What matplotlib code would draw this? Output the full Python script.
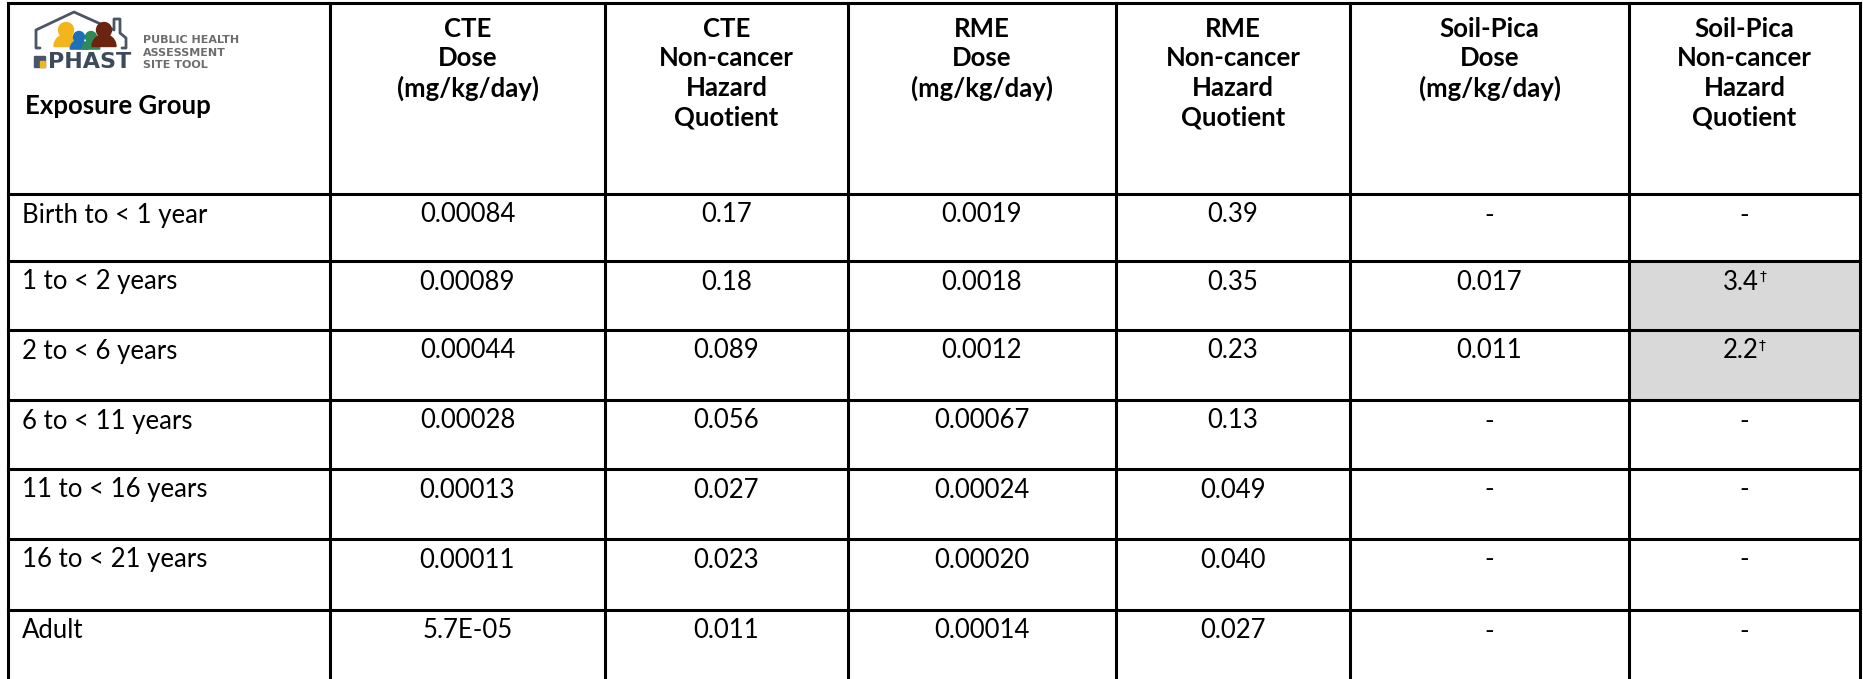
import matplotlib
matplotlib.use("Agg")
import matplotlib.pyplot as plt
from matplotlib.patches import Rectangle, Circle, Wedge

# Table content
header_first = "Exposure Group"
headers = [
    "CTE\nDose\n(mg/kg/day)",
    "CTE\nNon-cancer\nHazard\nQuotient",
    "RME\nDose\n(mg/kg/day)",
    "RME\nNon-cancer\nHazard\nQuotient",
    "Soil-Pica\nDose\n(mg/kg/day)",
    "Soil-Pica\nNon-cancer\nHazard\nQuotient",
]
groups = ["Birth to < 1 year", "1 to < 2 years", "2 to < 6 years", "6 to < 11 years",
          "11 to < 16 years", "16 to < 21 years", "Adult"]
cte_dose = ["0.00084", "0.00089", "0.00044", "0.00028", "0.00013", "0.00011", "5.7E-05"]
cte_hq = ["0.17", "0.18", "0.089", "0.056", "0.027", "0.023", "0.011"]
rme_dose = ["0.0019", "0.0018", "0.0012", "0.00067", "0.00024", "0.00020", "0.00014"]
rme_hq = ["0.39", "0.35", "0.23", "0.13", "0.049", "0.040", "0.027"]
pica_dose = ["-", "0.017", "0.011", "-", "-", "-", "-"]
pica_hq = ["-", "3.4", "2.2", "-", "-", "-", "-"]
pica_flag = [False, True, True, False, False, False, False]

# Layout (pixels)
W, H = 1863, 679
col_edges = [8, 330, 605, 848, 1116, 1350, 1629, 1860]
row_edges = [3, 194, 261, 330, 400, 469, 539, 610, 684]
FONT = "Lato"
FS = 18.5
LW = 2.2


def draw_logo(ax):
    """Rough version of the PHAST logo in the top-left cell."""
    roof_x = [40, 36, 36, 74, 114, 114, 120, 120, 126, 126, 122]
    roof_y = [48, 48, 30, 12, 30, 19, 19, 33, 38, 48, 48]
    ax.plot(roof_x, roof_y, color="#4a5566", lw=2.0, solid_capstyle="round")
    people = [(66, 30, 7.5, "#f2b51c"), (79, 37, 5.5, "#1f6fb8"),
              (91, 37, 5.5, "#2e8b57"), (104, 30, 7.5, "#6b2410")]
    for cx, cy, r, c in people:
        ax.add_patch(Circle((cx, cy), r, color=c, zorder=3))
        ax.add_patch(Wedge((cx, cy + r * 2.2), r * 1.6, 180, 360, color=c, zorder=3))
    ax.add_patch(Rectangle((34, 56), 11, 11, color="#4a5566", zorder=3))
    ax.add_patch(Rectangle((40, 61), 5, 6, color="#f2b51c", zorder=4))
    ax.text(48, 62, "PHAST", fontsize=16, fontweight="bold", color="#3d4a5c",
            family="DejaVu Sans", va="center", ha="left")
    for i, s in enumerate(["PUBLIC HEALTH", "ASSESSMENT", "SITE TOOL"]):
        ax.text(143, 40 + i * 12.5, s, fontsize=8, fontweight="bold", color="#6d6d6d",
                family="DejaVu Sans", va="center", ha="left")


def main():
    fig = plt.figure(figsize=(W / 100, H / 100), dpi=100)
    ax = fig.add_axes([0, 0, 1, 1])
    ax.set_xlim(0, W)
    ax.set_ylim(H, 0)
    ax.axis("off")

    columns = [cte_dose, cte_hq, rme_dose, rme_hq, pica_dose, pica_hq]

    # Shaded cells
    for r, flag in enumerate(pica_flag):
        if flag:
            ax.add_patch(Rectangle((col_edges[6], row_edges[r + 1]),
                                   col_edges[7] - col_edges[6],
                                   row_edges[r + 2] - row_edges[r + 1],
                                   color="#d9d9d9", zorder=0))

    # Grid
    for x in col_edges:
        ax.plot([x, x], [row_edges[0], row_edges[-1]], color="black", lw=LW, zorder=5)
    for y in row_edges:
        ax.plot([col_edges[0], col_edges[-1]], [y, y], color="black", lw=LW, zorder=5)

    # Header
    draw_logo(ax)
    ax.text(25, 106, header_first, fontsize=FS, fontweight="bold", family=FONT,
            va="center", ha="left")
    for j, h in enumerate(headers):
        cx = (col_edges[j + 1] + col_edges[j + 2]) / 2
        for k, line in enumerate(h.split("\n")):
            ax.text(cx, 29 + k * 29.5, line, fontsize=FS, fontweight="bold",
                    family=FONT, va="center", ha="center")

    # Body
    for r, g in enumerate(groups):
        y = row_edges[r + 1] + 21
        ax.text(22, y, g, fontsize=FS, family=FONT, va="center", ha="left")
        for j, col in enumerate(columns):
            cx = (col_edges[j + 1] + col_edges[j + 2]) / 2
            if j == 5 and pica_flag[r]:
                t = ax.text(cx - 4, y, col[r], fontsize=FS, family=FONT,
                            va="center", ha="center")
                ax.annotate("\u2020", xy=(1, 1), xycoords=t, xytext=(0.5, 0),
                            textcoords="offset points", fontsize=10,
                            family="DejaVu Sans", va="top", ha="left")
            else:
                ax.text(cx, y, col[r], fontsize=FS, family=FONT,
                        va="center", ha="center")

    fig.savefig("out.png", dpi=100)


if __name__ == "__main__":
    main()
